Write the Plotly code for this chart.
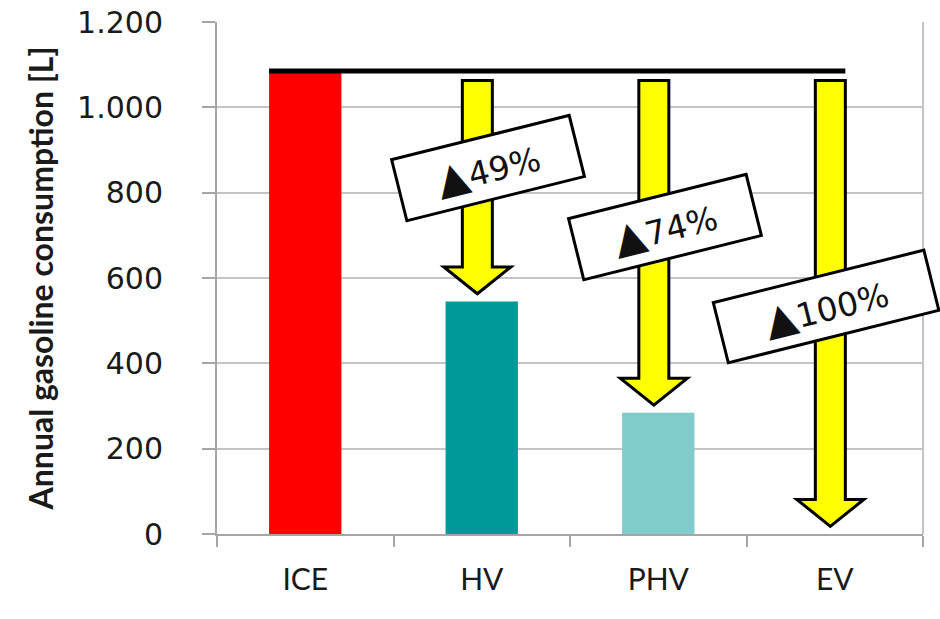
import plotly.graph_objects as go

# Annual gasoline consumption per powertrain type [L]
categories = ["ICE", "HV", "PHV", "EV"]
consumption = [1085, 545, 284, 0]
bar_colors = ["#FF0000", "#009999", "#80CCCC", "#FFFFFF"]

# Reduction versus the ICE baseline, one label per alternative powertrain
reduction_pcts = ["49%", "74%", "100%"]

# Y axis ticks with a dot as thousands separator
y_tickvals = [0, 200, 400, 600, 800, 1000, 1200]
y_ticktext = ["0", "200", "400", "600", "800", "1.000", "1.200"]

# ---- styling constants ----
BAR_WIDTH = 0.41
ARROW_DX = -0.025        # arrows sit slightly left of the category centre
SHAFT_HALF = 0.085       # half shaft width (x units)
HEAD_HALF = 0.19         # half head width (x units)
HEAD_LEN = 63            # head length (y units)
ARROW_TOP_GAP = 22       # gap below the baseline line
ARROW_TIP_GAP = 18       # gap above the target bar
LABEL_POS = [(1.037, 858), (2.04, 719), (2.95, 534)]
LABEL_BOX = [(180, 60), (180, 60), (214, 59)]
GRID = "#C4C4C4"
AXIS = "#A6A6A6"
TEXT = "#1A1A1A"

fig = go.Figure()
fig.add_trace(go.Bar(
    x=categories,
    y=consumption,
    width=BAR_WIDTH,
    marker=dict(color=bar_colors, line=dict(width=0)),
    hoverinfo="x+y",
))

baseline = consumption[0]
shapes = []

# Yellow downward arrows from the ICE level to each alternative
for i in range(1, len(categories)):
    xc = i + ARROW_DX
    top = baseline - ARROW_TOP_GAP
    tip = consumption[i] + ARROW_TIP_GAP
    neck = tip + HEAD_LEN
    path = (
        f"M {xc - SHAFT_HALF},{top} L {xc + SHAFT_HALF},{top} "
        f"L {xc + SHAFT_HALF},{neck} L {xc + HEAD_HALF},{neck} "
        f"L {xc},{tip} L {xc - HEAD_HALF},{neck} "
        f"L {xc - SHAFT_HALF},{neck} Z"
    )
    shapes.append(dict(
        type="path", path=path, xref="x", yref="y",
        fillcolor="#FFFF00", line=dict(color="black", width=3),
        layer="above",
    ))

# Black baseline at the ICE consumption level
shapes.append(dict(
    type="line", xref="x", yref="y",
    x0=0 - BAR_WIDTH / 2, x1=len(categories) - 1 + ARROW_DX + SHAFT_HALF,
    y0=baseline, y1=baseline,
    line=dict(color="black", width=5), layer="above",
))

# Right border of the plot area
shapes.append(dict(
    type="line", xref="paper", yref="paper", x0=1, x1=1, y0=0, y1=1,
    line=dict(color=GRID, width=2), layer="below",
))

annotations = []
for pct, (ax, ay), (bw, bh) in zip(reduction_pcts, LABEL_POS, LABEL_BOX):
    annotations.append(dict(
        x=ax, y=ay, xref="x", yref="y",
        text=f'<span style="font-size:42px">▲</span>{pct}',
        showarrow=False, textangle=-14,
        font=dict(family="DejaVu Sans", size=33, color="#111111"),
        bgcolor="white", bordercolor="black", borderwidth=3, borderpad=0,
        width=bw, height=bh, align="center", valign="middle",
    ))

fig.update_layout(
    width=940, height=619,
    margin=dict(l=217, r=17, t=22, b=85, autoexpand=False),
    paper_bgcolor="white", plot_bgcolor="white",
    showlegend=False,
    shapes=shapes,
    annotations=annotations,
)

fig.update_xaxes(
    type="category", automargin=False,
    tickson="boundaries", ticks="outside", ticklen=11, tickwidth=2,
    tickcolor=AXIS, showline=True, linecolor=AXIS, linewidth=2,
    showgrid=False, ticklabelstandoff=18,
    tickfont=dict(family="Lato", size=30, color=TEXT),
    range=[-0.5, 3.5],
)

fig.update_yaxes(
    automargin=False,
    range=[0, 1200], tickvals=y_tickvals, ticktext=y_ticktext,
    ticks="outside", ticklen=13, tickwidth=2, tickcolor=AXIS,
    showline=True, linecolor=AXIS, linewidth=2,
    showgrid=True, gridcolor=GRID, gridwidth=2,
    zeroline=False, ticklabelstandoff=33,
    tickfont=dict(family="DejaVu Sans", size=30, color=TEXT),
    title=dict(
        text="<b>Annual gasoline consumption [L]</b>",
        font=dict(family="Lato", size=32, color=TEXT),
        standoff=14,
    ),
)

fig.write_html("out.html")
